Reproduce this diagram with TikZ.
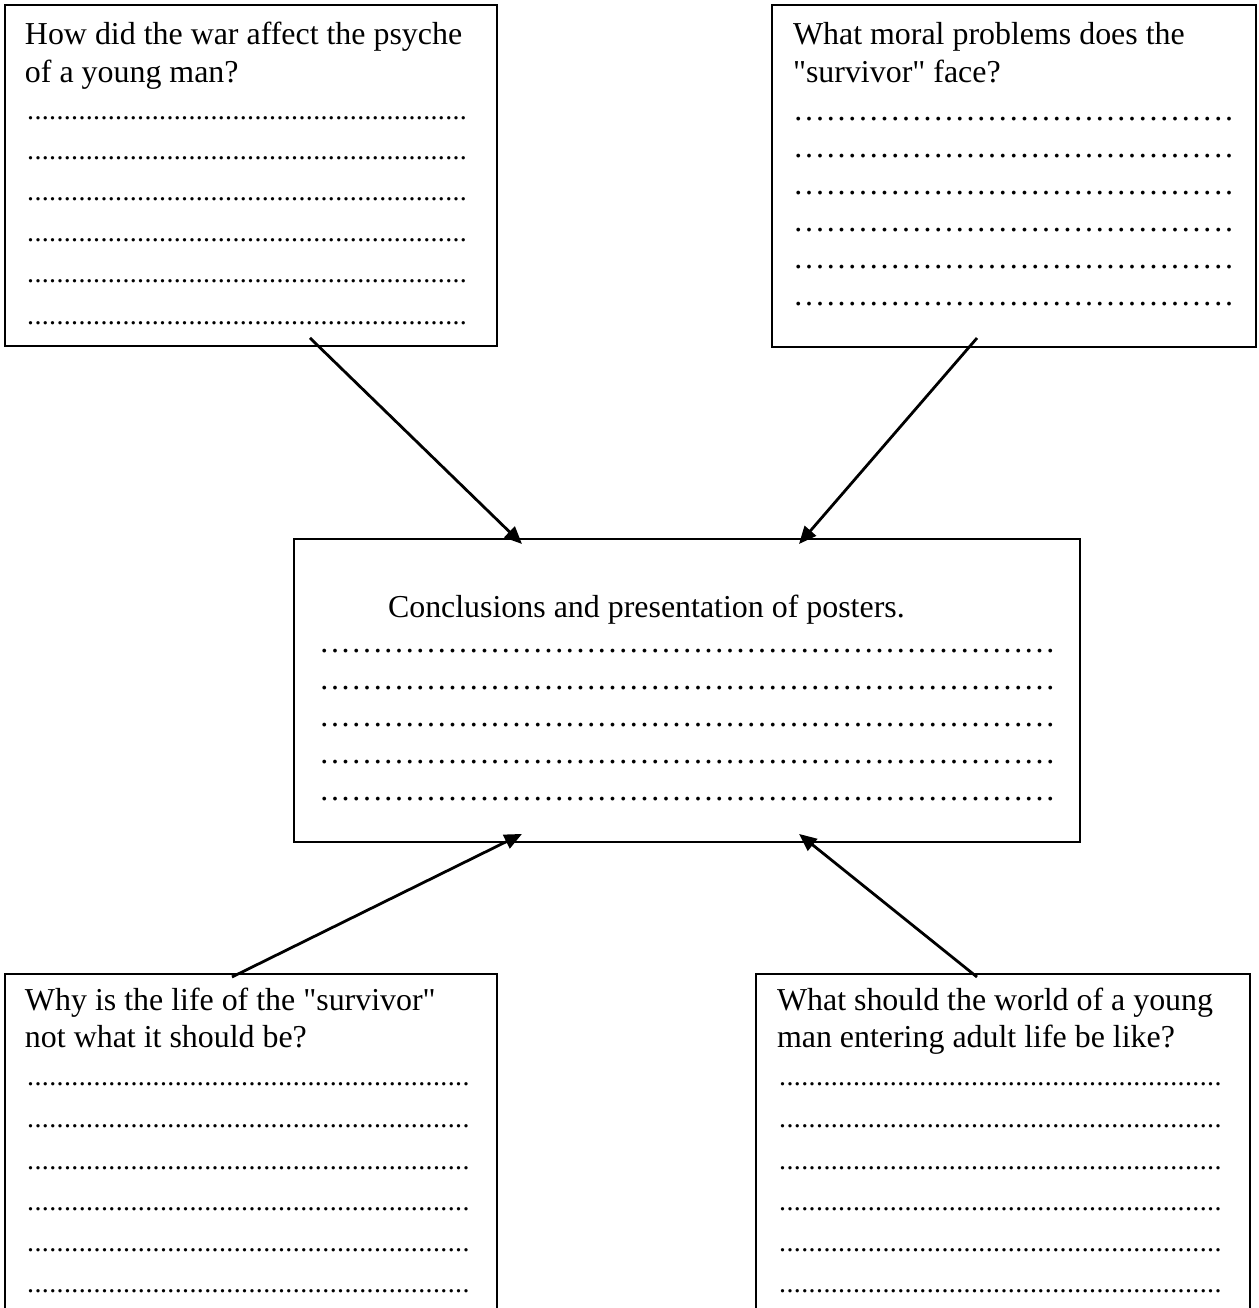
\documentclass[tikz,border=0pt]{standalone}
\usepackage{fontspec}
\setmainfont{Liberation Serif}[Ligatures=TeXOff]
\usetikzlibrary{arrows.meta,calc}
\newcommand\smalldots[1]{{\fontsize{10.5}{12}\selectfont\hbox to #1{\xleaders\hbox to 2.75pt{\hss.\hss}\hfill}}}
\newcommand\bigdots[1]{\hbox to #1{\xleaders\hbox to 3.98pt{\hss.\hss}\hfill}}
\begin{document}
\begin{tikzpicture}[x=0.376pt,y=-0.376pt,
  box/.style={draw=black,line width=0.75pt,inner sep=0pt,outer sep=0pt,anchor=north west},
  lbl/.style={anchor=base west,inner sep=0pt,outer sep=0pt,font=\fontsize{12}{13.8}\selectfont},
  conn/.style={line width=1.05pt,-{Triangle[length=6.6pt,width=5.6pt]}}]
\useasboundingbox (0,0) rectangle (1259,1308);
\clip (0,0) rectangle (1259,1308);
\fill[white] (0,0) rectangle (1259,1308);

% boxes
\node[box,minimum width=185.0pt,minimum height=128.2pt] (tl) at (5,5) {};
\node[box,minimum width=182.0pt,minimum height=128.6pt] (tr) at (772,5) {};
\node[box,minimum width=295.5pt,minimum height=113.9pt] (ctr) at (294,539) {};
\node[box,minimum width=185.0pt,minimum height=134pt] (bl) at (5,974) {};
\node[box,minimum width=185.7pt,minimum height=134pt] (br) at (756,974) {};

% top-left
\node[lbl] (tlq1) at (25,45) {How did the war affect the psyche};
\node[lbl] (tlq2) at (25,82) {of a young man?};
\foreach \y [count=\i] in {119,159,200,241,282,324}
  \node[lbl] (tld\i) at (27,\y) {\smalldots{165.5pt}};

% top-right
\node[lbl] (trq1) at (793,45) {What moral problems does the};
\node[lbl] (trq2) at (793,82) {"survivor" face?};
\foreach \y [count=\i] in {120,157,194,231,268,305}
  \node[lbl] (trd\i) at (793,\y) {\bigdots{166pt}};

% center
\node[lbl] (cq) at (388,617) {Conclusions and presentation of posters.};
\foreach \y [count=\i] in {652,689,726,763,800}
  \node[lbl] (cd\i) at (319,\y) {\bigdots{277pt}};

% bottom-left
\node[lbl] (blq1) at (25,1010) {Why is the life of the "survivor"};
\node[lbl] (blq2) at (25,1047) {not what it should be?};
\foreach \y [count=\i] in {1085,1127,1169,1210,1251,1292}
  \node[lbl] (bld\i) at (27,\y) {\smalldots{166.5pt}};

% bottom-right
\node[lbl] (brq1) at (777,1010) {What should the world of a young};
\node[lbl] (brq2) at (777,1047) {man entering adult life be like?};
\foreach \y [count=\i] in {1085,1127,1169,1210,1251,1292}
  \node[lbl] (brd\i) at (779,\y) {\smalldots{166.5pt}};

% connectors
\coordinate (s1) at ($(tl.south west)+(305,-8)$);
\coordinate (e1) at ($(ctr.north west)+(228,5)$);
\coordinate (s2) at ($(tr.south west)+(205,-9)$);
\coordinate (e2) at ($(ctr.north west)+(505,5)$);
\coordinate (s3) at ($(bl.north west)+(227,3)$);
\coordinate (e3) at ($(ctr.south west)+(228,-8)$);
\coordinate (s4) at ($(br.north west)+(221,3)$);
\coordinate (e4) at ($(ctr.south west)+(505,-8)$);
\draw[conn] (s1) -- (e1);
\draw[conn] (s2) -- (e2);
\draw[conn] (s3) -- (e3);
\draw[conn] (s4) -- (e4);
\end{tikzpicture}
\end{document}
